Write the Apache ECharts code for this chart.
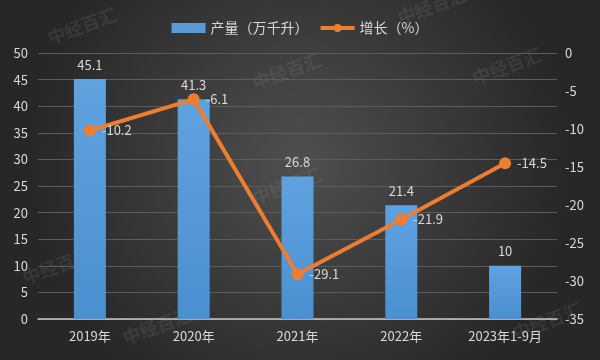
<!DOCTYPE html>
<html><head><meta charset="utf-8">
<script src="https://cdn.jsdelivr.net/npm/echarts@6/dist/echarts.min.js"></script>
<style>html,body{margin:0;padding:0;background:#333}#c{width:600px;height:360px}</style>
</head><body><div id="c"></div>
<script>
const categories = ['2019年','2020年','2021年','2022年','2023年1-9月'];
const output = [45.1, 41.3, 26.8, 21.4, 10];
const growth = [-10.2, -6.1, -29.1, -21.9, -14.5];
const leftTicks = [0, 50, 5];
const rightTicks = [-35, 0, 5];

const chart = echarts.init(document.getElementById('c'));
const font = '"Microsoft YaHei","Noto Sans CJK SC",sans-serif';
const wmPos = [[45, 30], [395, 10], [250, 75], [250, 190], [470, 70], [120, 330], [510, 325], [20, 270]];
chart.setOption({
  backgroundColor: {
    type: 'radial', x: 0.5, y: 0.45, r: 0.75,
    colorStops: [{offset: 0, color: '#4f4f4f'}, {offset: 1, color: '#272727'}]
  },
  textStyle: {fontFamily: font},
  graphic: wmPos.map(p => ({
    type: 'text', x: p[0], y: p[1], rotation: 0.35, z: -1, silent: true,
    style: {text: '中经百汇', fill: 'rgba(160,170,180,0.13)', font: 'bold 18px ' + font}
  })),
  legend: {
    top: 16, left: 'center', itemGap: 10,
    textStyle: {color: '#d9d9d9', fontSize: 14, fontFamily: font},
    data: [
      {name: '产量（万千升）', icon: 'rect', itemStyle: {color: '#5b9bd5'}},
      {name: '增长（%）', lineStyle: {width: 4}}
    ],
    itemWidth: 34, itemHeight: 10
  },
  grid: {left: 38, right: 43, top: 53, bottom: 41},
  xAxis: {
    type: 'category', data: categories,
    axisLine: {lineStyle: {color: '#c8c8c8', width: 1.5}},
    axisTick: {show: false},
    axisLabel: {color: '#d9d9d9', fontSize: 13, margin: 11, fontFamily: font}
  },
  yAxis: [{
    type: 'value', min: leftTicks[0], max: leftTicks[1], interval: leftTicks[2],
    axisLabel: {color: '#d9d9d9', fontSize: 13, margin: 10},
    splitLine: {lineStyle: {color: '#5c5c5c', width: 1}},
    axisLine: {show: false}
  }, {
    type: 'value', min: rightTicks[0], max: rightTicks[1], interval: rightTicks[2],
    axisLabel: {color: '#d9d9d9', fontSize: 13, margin: 8},
    splitLine: {show: false},
    axisLine: {show: false}
  }],
  series: [{
    name: '产量（万千升）', type: 'bar', data: output, barWidth: 32,
    itemStyle: {color: {type: 'linear', x: 0, y: 0, x2: 0, y2: 1,
      colorStops: [{offset: 0, color: '#5fa2e0'}, {offset: 1, color: '#4a8fcf'}]}},
    label: {show: true, position: 'top', distance: 8, color: '#d9d9d9', fontSize: 13}
  }, {
    name: '增长（%）', type: 'line', yAxisIndex: 1, data: growth,
    lineStyle: {color: '#ed7d31', width: 4},
    itemStyle: {color: '#ed7d31'},
    symbol: 'circle', symbolSize: 12,
    label: {show: true, position: 'right', distance: 6, color: '#d9d9d9', fontSize: 13}
  }]
});
</script></body></html>
